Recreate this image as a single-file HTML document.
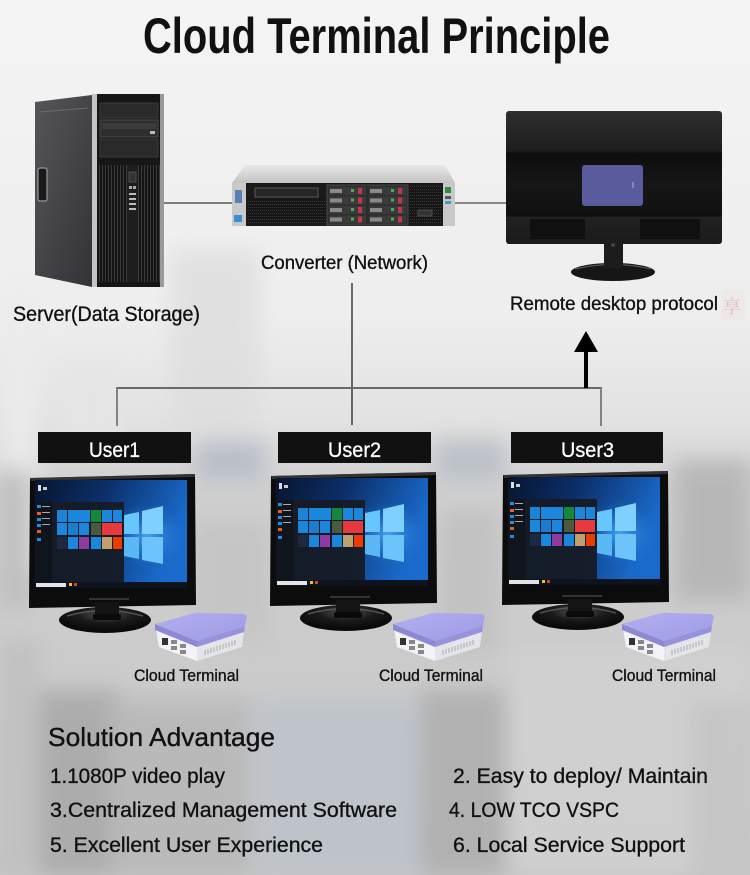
<!DOCTYPE html>
<html><head><meta charset="utf-8"><style>
html,body{margin:0;padding:0;background:#eee;}
svg{display:block;}
text{font-family:"Liberation Sans Narrow","Liberation Sans",sans-serif;fill:#111;}
.t{stroke:#111;stroke-width:0.35;}
.w{fill:#fff;stroke:#fff;stroke-width:0.3;}
</style></head><body>
<svg width="750" height="875" viewBox="0 0 750 875" xmlns="http://www.w3.org/2000/svg">
<defs>
<linearGradient id="bgv" x1="0" y1="0" x2="0" y2="1">
<stop offset="0" stop-color="#f4f4f4"/><stop offset="0.36" stop-color="#eeeeee"/><stop offset="0.48" stop-color="#e2e2e2"/><stop offset="0.56" stop-color="#cfcfcf"/><stop offset="1" stop-color="#c6c6c6"/>
</linearGradient>
<filter id="bl" x="-20%" y="-20%" width="140%" height="140%"><feGaussianBlur stdDeviation="10"/></filter>
<pattern id="grille" width="3" height="4" patternUnits="userSpaceOnUse"><rect width="3" height="4" fill="#141414"/><rect width="1" height="4" fill="#3c3c3c"/></pattern>
<pattern id="grille2" width="2" height="3" patternUnits="userSpaceOnUse"><rect width="2" height="3" fill="#161616"/><rect width="1" height="1" fill="#3a3a3a"/></pattern>
<linearGradient id="side" x1="0" y1="0" x2="1" y2="1"><stop offset="0" stop-color="#55555a"/><stop offset="1" stop-color="#333337"/></linearGradient>
<linearGradient id="srvtop" x1="0" y1="0" x2="0" y2="1"><stop offset="0" stop-color="#e8e8e8"/><stop offset="1" stop-color="#c4c4c4"/></linearGradient>
<linearGradient id="mback" x1="0" y1="0" x2="0" y2="1"><stop offset="0" stop-color="#2e2e2e"/><stop offset="0.3" stop-color="#1e1e1e"/><stop offset="0.32" stop-color="#0e0e0e"/><stop offset="0.55" stop-color="#161616"/><stop offset="0.79" stop-color="#101010"/><stop offset="0.8" stop-color="#222"/><stop offset="1" stop-color="#1a1a1a"/></linearGradient>
<linearGradient id="scr" x1="0" y1="0" x2="1" y2="0.3"><stop offset="0" stop-color="#071530"/><stop offset="0.45" stop-color="#0b2f6a"/><stop offset="1" stop-color="#1a6acb"/></linearGradient>
<radialGradient id="glow" cx="0.5" cy="0.5" r="0.5"><stop offset="0" stop-color="#4fb6ff" stop-opacity="0.8"/><stop offset="1" stop-color="#1a6acb" stop-opacity="0"/></radialGradient>
<radialGradient id="baseg" cx="0.5" cy="0.3" r="0.6"><stop offset="0" stop-color="#555"/><stop offset="0.5" stop-color="#1a1a1a"/><stop offset="1" stop-color="#0a0a0a"/></radialGradient>
<linearGradient id="lid" x1="0" y1="0" x2="1" y2="1"><stop offset="0" stop-color="#b2afef"/><stop offset="1" stop-color="#9e9be6"/></linearGradient>
<g id="mon">
 <path d="M1,476 L166,472 L167,603 L0,606 Z" fill="#0c0c0c"/>
 <path d="M1,476 L166,472 L166,475 L2,479 Z" fill="#444" opacity="0.7"/>
 <rect x="6" y="478" width="152" height="108" fill="url(#scr)"/>
 <ellipse cx="118" cy="534" rx="40" ry="34" fill="url(#glow)"/>
 <polygon points="95,513 110,510 110,532 95,532" fill="#68c6ff"/>
 <polygon points="113,509 134,504 134,532 113,532" fill="#7fd0ff"/>
 <polygon points="95,535 110,535 110,557 95,554" fill="#5ab8f5"/>
 <polygon points="113,535 134,535 134,562 113,558" fill="#6cc4fb"/>
 <rect x="6" y="500" width="89" height="86" fill="#161b26" opacity="0.95"/>
 <rect x="6" y="500" width="17" height="86" fill="#10141c"/>
 <rect x="8" y="503" width="4" height="3" fill="#1e8fe0"/>
 <rect x="8" y="510" width="4" height="3" fill="#e8602c"/>
 <rect x="8" y="516" width="4" height="3" fill="#1e8fe0"/>
 <rect x="8" y="522" width="4" height="3" fill="#1e8fe0"/>
 <rect x="8" y="528" width="4" height="3" fill="#e85a2a"/>
 <rect x="8" y="536" width="4" height="3" fill="#1e8fe0"/>
 <rect x="13" y="504" width="8" height="1" fill="#aaa"/>
 <rect x="13" y="510" width="8" height="1" fill="#aaa"/>
 <rect x="13" y="516" width="8" height="1" fill="#aaa"/>
 <rect x="13" y="522" width="8" height="1" fill="#aaa"/>
 <rect x="9" y="483" width="3" height="6" fill="#ddd"/>
 <rect x="14" y="485" width="4" height="3" fill="#ccc"/>
 <rect x="28" y="508" width="10" height="12" fill="#1c84d6"/>
 <rect x="39" y="508" width="22" height="12" fill="#1a86dc"/>
 <rect x="62" y="508" width="10" height="12" fill="#12893a"/>
 <rect x="73" y="508" width="10" height="12" fill="#1a86dc"/>
 <rect x="84" y="508" width="9" height="12" fill="#1a86dc"/>
 <rect x="28" y="521" width="10" height="12" fill="#1a86dc"/>
 <rect x="39" y="521" width="10" height="12" fill="#1a7dd0"/>
 <rect x="50" y="521" width="10" height="12" fill="#1a86dc"/>
 <rect x="62" y="521" width="10" height="12" fill="#4a5a40"/>
 <rect x="73" y="521" width="20" height="12" fill="#e8393f"/>
 <rect x="28" y="535" width="10" height="12" fill="#1b2a40"/>
 <rect x="39" y="535" width="10" height="12" fill="#1a86dc"/>
 <rect x="50" y="535" width="10" height="12" fill="#8e3a9e"/>
 <rect x="62" y="535" width="10" height="12" fill="#1a86dc"/>
 <rect x="73" y="535" width="10" height="12" fill="#c0a070"/>
 <rect x="84" y="535" width="9" height="12" fill="#eb3c00"/>
 <rect x="6" y="580" width="152" height="6" fill="#0e1320"/>
 <rect x="7" y="581" width="30" height="4" fill="#e4e4e4"/>
 <rect x="40" y="581" width="3" height="3" fill="#f0c020"/>
 <rect x="45" y="581" width="3" height="3" fill="#e04020"/>
 <rect x="60" y="596" width="40" height="2" fill="#333"/>
 <ellipse cx="76" cy="618" rx="46" ry="13" fill="url(#baseg)"/>
 <path d="M38,614 Q76,603 114,614" stroke="#6a6a6a" stroke-width="1.5" fill="none" opacity="0.7"/>
 <rect x="66" y="600" width="24" height="16" fill="#141414"/>
 <rect x="64" y="612" width="28" height="6" rx="2" fill="#0a0a0a"/>
</g>
<g id="ct">
 <polygon points="3,16 44,33 44,48 6,34" fill="#f3f3f7"/>
 <polygon points="44,33 91,18 89,34 44,48" fill="#e4e4eb"/>
 <rect x="9" y="25" width="6" height="7" fill="#333"/>
 <rect x="18" y="27" width="6" height="4" fill="#888"/>
 <rect x="18" y="33" width="6" height="4" fill="#888"/>
 <rect x="27" y="31" width="6" height="4" fill="#888"/>
 <rect x="27" y="37" width="6" height="4" fill="#888"/>
 <g stroke="#aaa" stroke-width="1"><line x1="52" y1="37" x2="52" y2="42"/><line x1="55" y1="36" x2="55" y2="41"/><line x1="58" y1="35" x2="58" y2="40"/><line x1="61" y1="34" x2="61" y2="39"/><line x1="64" y1="33" x2="64" y2="38"/><line x1="67" y1="32" x2="67" y2="37"/><line x1="70" y1="31" x2="70" y2="36"/><line x1="73" y1="30" x2="73" y2="35"/><line x1="76" y1="29" x2="76" y2="34"/><line x1="79" y1="28" x2="79" y2="33"/><line x1="82" y1="27" x2="82" y2="32"/></g>
 <polygon points="2,11 44,28 44,34 2,17" fill="#8c89d4"/>
 <polygon points="44,28 92,13 91,19 44,34" fill="#9693dc"/>
 <path d="M2,11 L38,1 Q44,-1 50,0 L91,1 Q95,2 93,7 L92,13 L44,28 Z" fill="url(#lid)"/>
</g>
</defs>

<!-- background -->
<rect width="750" height="875" fill="url(#bgv)"/>
<g filter="url(#bl)" opacity="0.8">
 <rect x="0" y="290" width="40" height="280" fill="#ececec"/>
 <rect x="170" y="250" width="90" height="190" fill="#dedede"/>
 <rect x="60" y="360" width="60" height="90" fill="#e6e6e6"/>
 <rect x="195" y="440" width="70" height="40" fill="#b3bac4"/>
 <rect x="435" y="440" width="70" height="40" fill="#b6bcc4"/>
 <rect x="675" y="460" width="75" height="140" fill="#b2b2b2"/>
 <rect x="0" y="470" width="30" height="140" fill="#bcbcbc"/>
 <rect x="190" y="520" width="80" height="120" fill="#c4c4c4"/>
 <rect x="440" y="510" width="60" height="140" fill="#c0c0c0"/>
 <rect x="40" y="690" width="80" height="185" fill="#a6a6a6"/>
 <rect x="110" y="700" width="140" height="175" fill="#b6b6b6"/>
 <rect x="255" y="700" width="165" height="175" fill="#bdc3cb"/>
 <rect x="420" y="690" width="85" height="185" fill="#acacac"/>
 <rect x="510" y="650" width="240" height="225" fill="#d2d2d2"/>
 <rect x="0" y="640" width="40" height="235" fill="#bfbfbf"/>
 <rect x="690" y="700" width="60" height="175" fill="#c6c6c6"/>
</g>

<!-- title -->
<text x="143" y="53" font-size="50" font-weight="bold" textLength="467" lengthAdjust="spacingAndGlyphs">Cloud Terminal Principle</text>

<!-- connectors -->
<line x1="164" y1="203" x2="233" y2="203" stroke="#555" stroke-width="1.5"/>
<line x1="455" y1="203" x2="506" y2="203" stroke="#666" stroke-width="1.5"/>
<line x1="352" y1="283" x2="352" y2="425" stroke="#222" stroke-width="1.3"/>
<line x1="117" y1="388" x2="602" y2="388" stroke="#6a6a6a" stroke-width="2"/>
<line x1="117" y1="387" x2="117" y2="426" stroke="#777" stroke-width="1.8"/>
<line x1="601" y1="387" x2="601" y2="426" stroke="#777" stroke-width="1.8"/>
<line x1="586" y1="350" x2="586" y2="388" stroke="#000" stroke-width="4"/>
<polygon points="586,331 574,352 598,352" fill="#000"/>

<!-- server tower -->
<polygon points="35,102 92,95 92,287 35,275" fill="url(#side)"/>
<line x1="39" y1="112" x2="88" y2="108" stroke="#6a6a6e" stroke-width="1"/>
<rect x="38" y="168" width="9" height="33" rx="2" fill="#1a1a1a" stroke="#999" stroke-width="1.2"/>
<rect x="92" y="94" width="5" height="193" fill="#c4c4c4"/>
<rect x="97" y="94" width="64" height="193" fill="#161616"/>
<rect x="160" y="94" width="4" height="193" fill="#9a9a9a"/>
<rect x="100" y="103" width="58" height="15" fill="#2a2a2a" stroke="#3a3a3a"/>
<rect x="100" y="120" width="58" height="17" fill="#2e2e2e" stroke="#4a4a4a"/>
<rect x="102" y="123" width="54" height="6" fill="#3c3c3c"/>
<rect x="150" y="131" width="5" height="3" fill="#bbb"/>
<rect x="100" y="139" width="58" height="18" fill="#2a2a2a" stroke="#3a3a3a"/>
<rect x="98" y="165" width="29" height="117" fill="url(#grille)"/>
<rect x="138" y="165" width="22" height="117" fill="url(#grille)"/>
<rect x="127" y="165" width="11" height="117" fill="#1e1e1e"/>
<rect x="129" y="172" width="7" height="10" fill="#333" stroke="#666" stroke-width="0.6"/>
<rect x="129" y="186" width="3" height="3" fill="#aaa"/><rect x="133" y="186" width="3" height="3" fill="#aaa"/>
<rect x="129" y="193" width="7" height="2" fill="#bbb"/>
<rect x="129" y="198" width="7" height="2" fill="#bbb"/>
<rect x="129" y="203" width="7" height="2" fill="#bbb"/>
<rect x="129" y="208" width="7" height="2" fill="#bbb"/>

<!-- converter -->
<polygon points="245,165 445,165 455,183 232,183" fill="url(#srvtop)"/>
<rect x="232" y="183" width="223" height="43" fill="#1a1a1a"/>
<rect x="232" y="183" width="14" height="43" fill="#c9c9c9"/>
<rect x="235" y="190" width="7" height="13" fill="#5a7fb5"/>
<rect x="234" y="215" width="8" height="7" fill="#3a8fd0"/>
<rect x="255" y="188" width="63" height="9" fill="#262626" stroke="#666" stroke-width="0.8"/>
<rect x="248" y="199" width="78" height="25" fill="url(#grille2)"/>
<rect x="327" y="185" width="81" height="40" fill="#2c2c2c" stroke="#555" stroke-width="0.8"/>
<g>
 <rect x="329" y="187" width="37" height="8" fill="#3a3a3a"/><rect x="329" y="196.5" width="37" height="8" fill="#3a3a3a"/><rect x="329" y="206" width="37" height="8" fill="#3a3a3a"/><rect x="329" y="215.5" width="37" height="8" fill="#3a3a3a"/>
 <rect x="369" y="187" width="37" height="8" fill="#3a3a3a"/><rect x="369" y="196.5" width="37" height="8" fill="#3a3a3a"/><rect x="369" y="206" width="37" height="8" fill="#3a3a3a"/><rect x="369" y="215.5" width="37" height="8" fill="#3a3a3a"/>
 <g fill="#8a8a8a"><rect x="330" y="189" width="12" height="4"/><rect x="330" y="198.5" width="12" height="4"/><rect x="330" y="208" width="12" height="4"/><rect x="330" y="217.5" width="12" height="4"/><rect x="370" y="189" width="12" height="4"/><rect x="370" y="198.5" width="12" height="4"/><rect x="370" y="208" width="12" height="4"/><rect x="370" y="217.5" width="12" height="4"/></g>
 <g fill="#4caf50"><rect x="351" y="189" width="3" height="3"/><rect x="351" y="198.5" width="3" height="3"/><rect x="351" y="208" width="3" height="3"/><rect x="351" y="217.5" width="3" height="3"/><rect x="391" y="189" width="3" height="3"/><rect x="391" y="198.5" width="3" height="3"/><rect x="391" y="208" width="3" height="3"/><rect x="391" y="217.5" width="3" height="3"/></g>
 <g fill="#c0394b"><rect x="358" y="188" width="4" height="6"/><rect x="358" y="197.5" width="4" height="6"/><rect x="358" y="207" width="4" height="6"/><rect x="358" y="216.5" width="4" height="6"/><rect x="398" y="188" width="4" height="6"/><rect x="398" y="197.5" width="4" height="6"/><rect x="398" y="207" width="4" height="6"/><rect x="398" y="216.5" width="4" height="6"/></g>
</g>
<rect x="409" y="186" width="33" height="38" fill="url(#grille2)"/>
<rect x="418" y="210" width="14" height="6" fill="#333" stroke="#666" stroke-width="0.6"/>
<rect x="443" y="183" width="12" height="43" fill="#c9c9c9"/>
<rect x="445" y="187" width="6" height="6" fill="#3a8a3a"/>
<rect x="445" y="196" width="6" height="3" fill="#555"/>
<rect x="445" y="201" width="6" height="3" fill="#3a9fd0"/>

<!-- remote monitor (back) -->
<rect x="506" y="111" width="216" height="133" rx="3" fill="url(#mback)"/>
<rect x="530" y="219" width="55" height="20" fill="#101010"/>
<rect x="640" y="219" width="60" height="20" fill="#101010"/>
<rect x="582" y="165" width="61" height="41" rx="3" fill="#5a5b9c"/>
<rect x="632" y="182" width="2" height="6" fill="#8485c0"/>
<ellipse cx="613" cy="272" rx="42" ry="9" fill="#161616"/>
<path d="M575,269 Q613,260 651,269" stroke="#555" stroke-width="1.2" fill="none"/>
<rect x="604" y="236" width="19" height="32" fill="#1c1c1c"/>
<circle cx="613" cy="245" r="2" fill="#444"/>

<!-- labels top -->
<text class="t" x="261" y="269" font-size="19" textLength="167" lengthAdjust="spacingAndGlyphs">Converter (Network)</text>
<text class="t" x="13" y="321" font-size="21" textLength="187" lengthAdjust="spacingAndGlyphs">Server(Data Storage)</text>
<text class="t" x="510" y="310" font-size="19" textLength="208" lengthAdjust="spacingAndGlyphs">Remote desktop protocol</text>
<rect x="721" y="290" width="24" height="30" fill="#efe6e6" opacity="0.6"/>
<text x="723" y="313" font-size="18" style="fill:#e8b8b8;font-family:'Noto Serif CJK SC','Noto Sans CJK SC',serif">享</text>

<!-- user boxes -->
<rect x="38" y="432" width="153" height="31" fill="#111"/>
<rect x="278" y="432" width="153" height="31" fill="#111"/>
<rect x="511" y="432" width="152" height="31" fill="#111"/>
<text class="w" x="89" y="457" font-size="21" textLength="51" lengthAdjust="spacingAndGlyphs">User1</text>
<text class="w" x="328" y="457" font-size="21" textLength="53" lengthAdjust="spacingAndGlyphs">User2</text>
<text class="w" x="561" y="457" font-size="21" textLength="53" lengthAdjust="spacingAndGlyphs">User3</text>

<!-- monitors -->
<use href="#mon" x="29" y="2"/>
<use href="#mon" x="270" y="0"/>
<use href="#mon" x="502" y="-1"/>

<!-- cloud terminals -->
<use href="#ct" x="153" y="613"/>
<use href="#ct" x="391" y="613"/>
<use href="#ct" x="620" y="613"/>
<text class="t" x="134" y="681" font-size="17" textLength="105" lengthAdjust="spacingAndGlyphs">Cloud Terminal</text>
<text class="t" x="379" y="681" font-size="17" textLength="104" lengthAdjust="spacingAndGlyphs">Cloud Terminal</text>
<text class="t" x="612" y="681" font-size="17" textLength="104" lengthAdjust="spacingAndGlyphs">Cloud Terminal</text>

<!-- bottom text -->
<text class="t" x="48" y="746" font-size="26" textLength="227" lengthAdjust="spacingAndGlyphs">Solution Advantage</text>
<text class="t" x="50" y="783" font-size="21" textLength="175" lengthAdjust="spacingAndGlyphs">1.1080P video play</text>
<text class="t" x="453" y="783" font-size="21" textLength="255" lengthAdjust="spacingAndGlyphs">2. Easy to deploy/ Maintain</text>
<text class="t" x="50" y="817" font-size="21" textLength="347" lengthAdjust="spacingAndGlyphs">3.Centralized Management Software</text>
<text class="t" x="449" y="817" font-size="21" textLength="170" lengthAdjust="spacingAndGlyphs">4. LOW TCO VSPC</text>
<text class="t" x="50" y="852" font-size="21" textLength="273" lengthAdjust="spacingAndGlyphs">5. Excellent User Experience</text>
<text class="t" x="453" y="852" font-size="21" textLength="232" lengthAdjust="spacingAndGlyphs">6. Local Service Support</text>
</svg>
</body></html>
